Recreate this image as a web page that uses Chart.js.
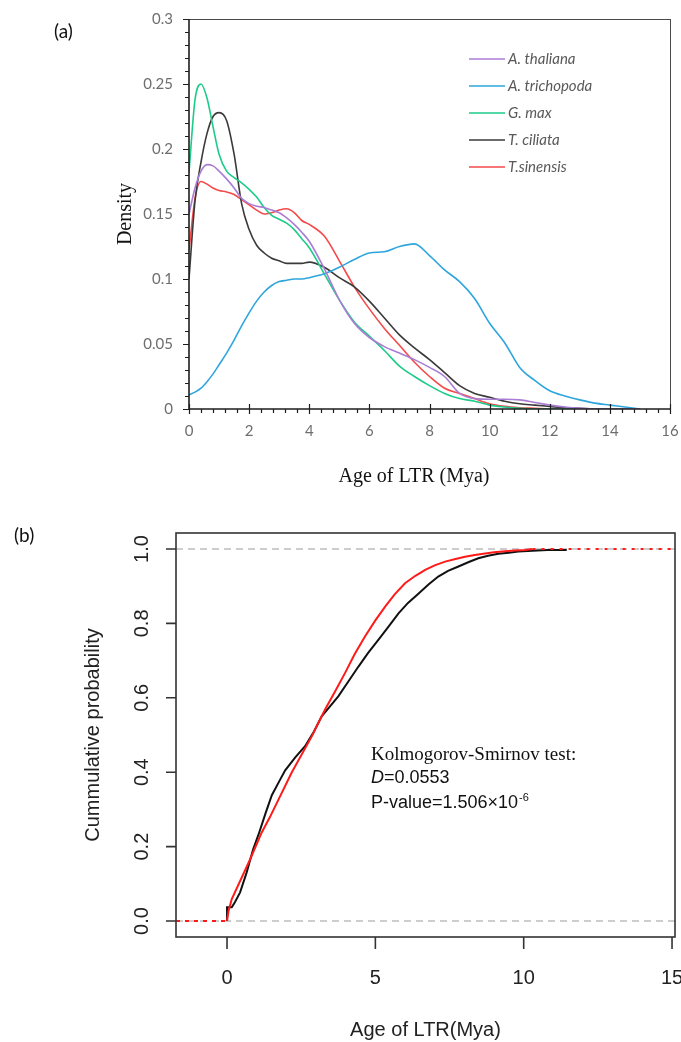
<!DOCTYPE html>
<html>
<head>
<meta charset="utf-8">
<script src="https://cdn.jsdelivr.net/npm/chart.js@4.4.1/dist/chart.umd.min.js"></script>
<style>
  html, body { margin: 0; padding: 0; background: #fff; }
  body { width: 681px; height: 1042px; position: relative; overflow: hidden; }
  canvas { position: absolute; left: 0; }
  #densityChart { top: 0; }
  #cumulativeChart { top: 500px; }
  .panel { position: absolute; font-family: Lato, 'Open Sans', sans-serif; font-size: 19px; color: #111; }
</style>
</head>
<body>
<canvas id="densityChart" width="681" height="500"></canvas>
<canvas id="cumulativeChart" width="681" height="542"></canvas>
<div class="panel" style="left:54px; top:19px;">(a)</div>
<div class="panel" style="left:14px; top:523px;">(b)</div>
<script>
// ---- panel (a): density of LTR insertion age ----
const ageGrid = [0, 0.2, 0.4, 0.6, 0.8, 1, 1.25, 1.5, 1.75, 2, 2.25, 2.5, 2.75, 3, 3.25, 3.5, 3.75, 4, 4.5, 5,
  5.5, 6, 6.5, 7, 7.5, 8, 8.5, 9, 9.5, 10, 10.5, 11, 11.5, 12, 12.5, 13, 13.5, 14, 14.5, 15];

const thaliana = [0.15, 0.17, 0.183, 0.188, 0.187, 0.183, 0.177, 0.17, 0.162, 0.158, 0.156, 0.155, 0.153, 0.151, 0.147, 0.142, 0.136, 0.129, 0.108, 0.084,
  0.066, 0.055, 0.048, 0.043, 0.038, 0.032, 0.025, 0.012, 0.008, 0.0075, 0.0075, 0.007, 0.005, 0.003, 0.0015, 0.0005, 0, 0, 0, 0];
const trichopoda = [0.011, 0.013, 0.016, 0.021, 0.027, 0.034, 0.043, 0.053, 0.064, 0.074, 0.083, 0.09, 0.095, 0.098, 0.099, 0.1, 0.1, 0.101, 0.104, 0.109,
  0.115, 0.12, 0.121, 0.125, 0.127, 0.118, 0.107, 0.098, 0.085, 0.066, 0.051, 0.032, 0.022, 0.014, 0.01, 0.007, 0.0045, 0.003, 0.0015, 0];
const gmax = [0.182, 0.238, 0.25, 0.239, 0.217, 0.196, 0.183, 0.178, 0.174, 0.169, 0.163, 0.155, 0.149, 0.146, 0.143, 0.138, 0.131, 0.124, 0.104, 0.084,
  0.067, 0.056, 0.045, 0.033, 0.025, 0.018, 0.012, 0.008, 0.006, 0.003, 0.0015, 0.0005, 0, 0, 0, 0, 0, 0, 0, 0];
const ciliata = [0.1, 0.16, 0.19, 0.212, 0.225, 0.228, 0.222, 0.196, 0.158, 0.138, 0.126, 0.12, 0.116, 0.114, 0.112, 0.112, 0.112, 0.113, 0.109, 0.101,
  0.094, 0.083, 0.07, 0.057, 0.047, 0.038, 0.028, 0.018, 0.012, 0.009, 0.006, 0.004, 0.003, 0.002, 0.001, 0.0005, 0, 0, 0, 0];
const sinensis = [0.122, 0.162, 0.175, 0.173, 0.17, 0.168, 0.167, 0.165, 0.161, 0.157, 0.153, 0.15, 0.151, 0.153, 0.154, 0.151, 0.145, 0.142, 0.133, 0.114,
  0.094, 0.077, 0.062, 0.049, 0.036, 0.025, 0.016, 0.012, 0.008, 0.004, 0.002, 0.001, 0.0005, 0, 0, 0, 0, 0, 0, 0];

const speciesNames = ['A. thaliana', 'A. trichopoda', 'G. max', 'T. ciliata', 'T.sinensis'];
const speciesSeries = [thaliana, trichopoda, gmax, ciliata, sinensis];
const speciesColors = ['#aa7dd4', '#2ea6dd', '#1dcb8a', '#3a3a3a', '#f44a4a'];

const densityTicksX = [0, 2, 4, 6, 8, 10, 12, 14, 16];
const densityTicksY = [0, 0.05, 0.1, 0.15, 0.2, 0.25, 0.3];

// ---- panel (b): cumulative probability, KS test ----
const blackAge = [0, 0, 0.16, 0.27, 0.44, 0.66, 0.88, 1.06, 1.3, 1.51, 1.79, 1.96, 2.3, 2.63, 2.9, 3.19, 3.45, 3.75, 4.1, 4.43,
  4.75, 5.1, 5.45, 5.78, 6.1, 6.45, 6.8, 7.12, 7.45, 7.8, 8.15, 8.47, 8.8, 9.15, 9.5, 9.82, 10.3, 10.8, 11.45];
const blackCum = [0, 0.037, 0.037, 0.051, 0.077, 0.13, 0.193, 0.232, 0.29, 0.338, 0.38, 0.405, 0.44, 0.47, 0.505, 0.55, 0.575, 0.604, 0.645, 0.684,
  0.72, 0.756, 0.792, 0.827, 0.855, 0.88, 0.905, 0.926, 0.941, 0.953, 0.965, 0.975, 0.982, 0.987, 0.99, 0.993, 0.995, 0.997, 0.997];
const redAge = [0, 0.05, 0.16, 0.78, 1.17, 1.45, 2.18, 2.86, 3.3, 3.65, 3.98, 4.3, 4.65, 5.0, 5.33, 5.65, 6.0, 6.35, 6.68, 7.0,
  7.35, 7.7, 8.02, 8.35, 8.7, 9.0, 9.37, 9.7, 10.05, 10.3];
const redCum = [0, 0.027, 0.059, 0.166, 0.238, 0.28, 0.399, 0.497, 0.568, 0.618, 0.667, 0.717, 0.765, 0.808, 0.845, 0.878, 0.908, 0.928, 0.944, 0.956,
  0.966, 0.973, 0.979, 0.984, 0.988, 0.991, 0.994, 0.996, 0.997, 1];

const cumRangeX = [-1.72, 15.1];
const cumRangeY = [-0.043, 1.043];
const refLevels = [0, 1];
const cumTicksX = [0, 5, 10, 15];
const cumTicksY = [0, 0.2, 0.4, 0.6, 0.8, 1];

function toPoints(xs, ys) {
  return xs.map((x, i) => ({ x: x, y: ys[i] }));
}

// frame, minor ticks, legend and x title for panel (a)
const densityDecor = {
  id: 'densityDecor',
  afterDraw(chart) {
    const { ctx, chartArea: a, scales: { x, y } } = chart;
    ctx.save();
    ctx.strokeStyle = '#4a4a4a';
    ctx.lineWidth = 1;
    ctx.beginPath();
    ctx.moveTo(a.left, a.top + 0.5); ctx.lineTo(a.right, a.top + 0.5);
    ctx.moveTo(a.right + 0.5, a.top); ctx.lineTo(a.right + 0.5, a.bottom);
    ctx.stroke();

    ctx.strokeStyle = '#1e1e1e';
    ctx.lineWidth = 1.6;
    ctx.beginPath();
    ctx.moveTo(a.left, a.top); ctx.lineTo(a.left, a.bottom);
    ctx.lineTo(a.right, a.bottom);
    ctx.stroke();

    ctx.lineWidth = 1.2;
    ctx.beginPath();
    for (let v = 0; v <= 0.3001; v += 0.01) {
      const py = Math.round(y.getPixelForValue(v)) + 0.5;
      const major = Math.abs(v / 0.05 - Math.round(v / 0.05)) < 1e-6;
      ctx.moveTo(a.left - (major ? 6 : 4), py); ctx.lineTo(a.left, py);
    }
    for (let v = 0; v <= 16.001; v += 0.4) {
      const px = Math.round(x.getPixelForValue(v)) + 0.5;
      const major = Math.abs(v / 2 - Math.round(v / 2)) < 1e-6;
      if (major) { ctx.moveTo(px, a.bottom - 5); ctx.lineTo(px, a.bottom + 5); }
      else { ctx.moveTo(px, a.bottom); ctx.lineTo(px, a.bottom + 4); }
    }
    ctx.stroke();

    // legend
    ctx.font = 'italic 15px Lato, "Open Sans", sans-serif';
    ctx.textBaseline = 'middle';
    ctx.textAlign = 'left';
    chart.data.datasets.forEach((ds, i) => {
      const ly = a.top + 40 + i * 27;
      ctx.strokeStyle = ds.borderColor;
      ctx.lineWidth = 1.6;
      ctx.beginPath();
      ctx.moveTo(a.left + 280, ly); ctx.lineTo(a.left + 316, ly);
      ctx.stroke();
      ctx.fillStyle = '#595959';
      ctx.fillText(ds.label, a.left + 319, ly);
    });

    ctx.fillStyle = '#111';
    ctx.textAlign = 'center';
    ctx.font = '20px "Liberation Serif", "Times New Roman", serif';
    ctx.fillText('Age of LTR (Mya)', 414, 477);
    ctx.restore();
  }
};

new Chart(document.getElementById('densityChart'), {
  type: 'line',
  data: {
    datasets: speciesNames.map((name, i) => ({
      label: name,
      data: toPoints(ageGrid, speciesSeries[i]),
      borderColor: speciesColors[i],
      borderWidth: 1.6,
      pointRadius: 0,
      cubicInterpolationMode: 'monotone',
      fill: false
    }))
  },
  options: {
    responsive: false,
    animation: false,
    events: [],
    layout: { padding: { top: 19, right: 11, left: 0, bottom: 0 } },
    plugins: { legend: { display: false }, tooltip: { enabled: false } },
    scales: {
      x: {
        type: 'linear', min: 0, max: 16,
        afterBuildTicks: s => { s.ticks = densityTicksX.map(v => ({ value: v })); },
        afterFit: s => { s.height = 91; s.paddingLeft = 0; s.paddingRight = 0; },
        grid: { display: false, drawTicks: false }, border: { display: false },
        ticks: { padding: 13, color: '#6e6e6e', font: { family: 'Lato', size: 15 } }
      },
      y: {
        type: 'linear', min: 0, max: 0.3,
        afterBuildTicks: s => { s.ticks = densityTicksY.map(v => ({ value: v })); },
        afterFit: s => { s.width = 189; s.paddingTop = 0; s.paddingBottom = 0; },
        grid: { display: false, drawTicks: false }, border: { display: false },
        ticks: { padding: 16, color: '#6e6e6e', font: { family: 'Lato', size: 15 },
          callback: v => String(+Number(v).toFixed(2)) },
        title: { display: true, text: 'Density', color: '#111',
          font: { family: '"Liberation Serif", "Times New Roman", serif', size: 20 },
          padding: { top: 114, bottom: 0 } }
      }
    }
  },
  plugins: [densityDecor]
});

// box, ticks and KS annotation for panel (b)
const cumulativeDecor = {
  id: 'cumulativeDecor',
  afterDraw(chart) {
    const { ctx, chartArea: a, scales: { x, y } } = chart;
    ctx.save();
    ctx.strokeStyle = '#333';
    ctx.lineWidth = 1.6;
    ctx.strokeRect(a.left, a.top, a.right - a.left, a.bottom - a.top);
    ctx.beginPath();
    cumTicksY.forEach(v => {
      const py = y.getPixelForValue(v);
      ctx.moveTo(a.left - 10, py); ctx.lineTo(a.left, py);
    });
    cumTicksX.forEach(v => {
      const px = x.getPixelForValue(v);
      ctx.moveTo(px, a.bottom); ctx.lineTo(px, a.bottom + 12);
    });
    ctx.stroke();

    const tx = x.getPixelForValue(4.85);
    const ty = y.getPixelForValue(0.434);
    ctx.fillStyle = '#111';
    ctx.textAlign = 'left';
    ctx.textBaseline = 'alphabetic';
    ctx.font = '19px "Liberation Serif", "Times New Roman", serif';
    ctx.fillText('Kolmogorov-Smirnov test:', tx, ty);
    ctx.font = 'italic 18px "Liberation Sans", Arial, sans-serif';
    ctx.fillText('D', tx, ty + 23);
    const dw = ctx.measureText('D').width;
    ctx.font = '18px "Liberation Sans", Arial, sans-serif';
    ctx.fillText('=0.0553', tx + dw, ty + 23);
    const pText = 'P-value=1.506\u00d710';
    ctx.fillText(pText, tx, ty + 48);
    const pw = ctx.measureText(pText).width;
    ctx.font = '11px "Liberation Sans", Arial, sans-serif';
    ctx.fillText('-6', tx + pw + 1, ty + 41);
    ctx.restore();
  }
};

const sansFont = '"Liberation Sans", Arial, sans-serif';

new Chart(document.getElementById('cumulativeChart'), {
  type: 'line',
  data: {
    datasets: [
      ...refLevels.map(level => ({
        data: [{ x: cumRangeX[0], y: level }, { x: cumRangeX[1], y: level }],
        borderColor: '#bdbdbd', borderWidth: 1.5, borderDash: [7, 5], pointRadius: 0, order: 4
      })),
      {
        data: toPoints(blackAge, blackCum),
        borderColor: '#111', borderWidth: 2, pointRadius: 0, tension: 0, order: 3
      },
      {
        data: [{ x: cumRangeX[0], y: redCum[0] }, { x: redAge[0], y: redCum[0] }],
        borderColor: '#ff1a1a', borderWidth: 2, borderDash: [4, 5], pointRadius: 0, order: 2
      },
      {
        data: [{ x: redAge[redAge.length - 1], y: redCum[redCum.length - 1] }, { x: cumRangeX[1], y: redCum[redCum.length - 1] }],
        borderColor: '#ff1a1a', borderWidth: 2, borderDash: [3, 6], pointRadius: 0, order: 2
      },
      {
        data: toPoints(redAge, redCum),
        borderColor: '#ff1a1a', borderWidth: 2, pointRadius: 0, tension: 0, order: 1
      }
    ]
  },
  options: {
    responsive: false,
    animation: false,
    events: [],
    layout: { padding: { top: 33, right: 6, left: 0, bottom: 0 } },
    plugins: { legend: { display: false }, tooltip: { enabled: false } },
    scales: {
      x: {
        type: 'linear', min: cumRangeX[0], max: cumRangeX[1],
        afterBuildTicks: s => { s.ticks = cumTicksX.map(v => ({ value: v })); },
        afterFit: s => { s.height = 105; s.paddingLeft = 0; s.paddingRight = 0; },
        grid: { display: false, drawTicks: false }, border: { display: false },
        ticks: { padding: 29, color: '#222', font: { family: sansFont, size: 20 } },
        title: { display: true, text: 'Age of LTR(Mya)', color: '#222',
          font: { family: sansFont, size: 20 }, padding: { top: 0, bottom: 0 } }
      },
      y: {
        type: 'linear', min: cumRangeY[0], max: cumRangeY[1],
        afterBuildTicks: s => { s.ticks = cumTicksY.map(v => ({ value: v })); },
        afterFit: s => { s.width = 176; s.paddingTop = 0; s.paddingBottom = 0; },
        grid: { display: false, drawTicks: false }, border: { display: false },
        ticks: { padding: 20, minRotation: 90, maxRotation: 90, crossAlign: 'center', autoSkip: false,
          color: '#222', font: { family: sansFont, size: 20 },
          callback: v => Number(v).toFixed(1) },
        title: { display: true, text: 'Cummulative probability', color: '#222',
          font: { family: sansFont, size: 20 }, padding: { top: 81, bottom: 0 } }
      }
    }
  },
  plugins: [cumulativeDecor]
});
</script>
</body>
</html>
